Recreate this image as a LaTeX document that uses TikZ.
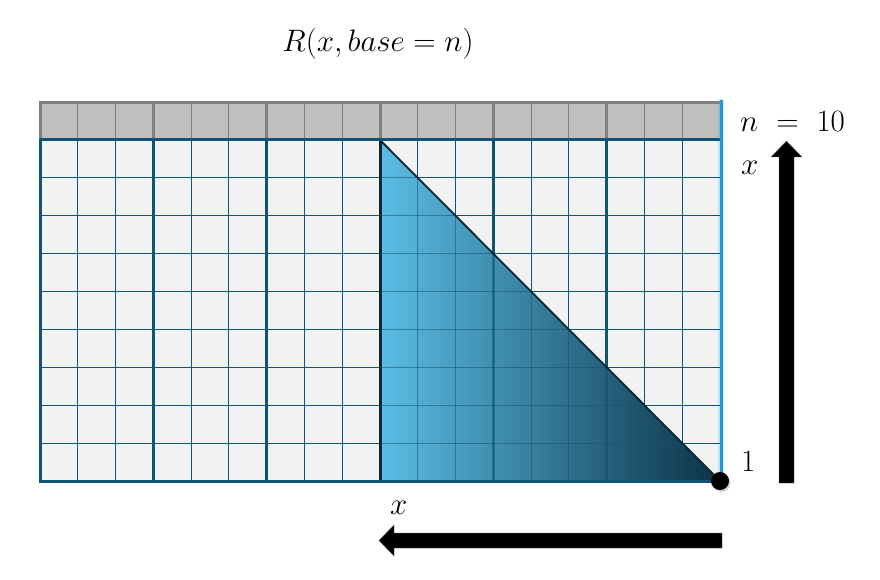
\RequirePackage{fix-cm}
\documentclass[tikz,border=0pt]{standalone}
\usetikzlibrary{shadows}
\definecolor{cellfill}{HTML}{F2F2F2}
\definecolor{grayfill}{HTML}{BFBFBF}
\definecolor{grayline}{HTML}{808080}
\definecolor{gridline}{RGB}{16,84,116}
\definecolor{triL}{HTML}{5BBDE4}
\definecolor{triR}{HTML}{0C3247}
\definecolor{triedge}{RGB}{10,38,52}
\definecolor{blueedge}{HTML}{1E9AD6}
\tikzset{
  thinline/.style={line width=1.2pt},
  thickline/.style={line width=3pt},
  lbl/.style={inner sep=0pt, anchor=base west},
  arrowshape/.style={fill=black, draw=black!60, line width=0.4pt}
}
\begin{document}
\begin{tikzpicture}[x=1pt,y=-1pt]
\useasboundingbox (0,0) rectangle (880,580);
% fills
\fill[cellfill] (40,140) rectangle (720,481);
\fill[grayfill] (40,103) rectangle (720,140);
% gray row lines
\foreach \i in {1,...,17}{
  \pgfmathsetmacro\xx{40+\i*680/18}
  \draw[grayline,thinline] (\xx,103) -- (\xx,140);
}
\foreach \i in {3,6,9,12,15}{
  \pgfmathsetmacro\xx{40+\i*680/18}
  \draw[grayline,thickline] (\xx,103) -- (\xx,140);
}
% body lines
\foreach \i in {1,...,17}{
  \pgfmathsetmacro\xx{40+\i*680/18}
  \draw[gridline,thinline] (\xx,140) -- (\xx,481);
}
\foreach \j in {1,...,8}{
  \pgfmathsetmacro\yy{140+\j*341/9}
  \draw[gridline,thinline] (40,\yy) -- (720,\yy);
}
\foreach \i in {3,6,9,12,15}{
  \pgfmathsetmacro\xx{40+\i*680/18}
  \draw[gridline,thickline] (\xx,140) -- (\xx,481);
}
% triangle
\shade[left color=triL, right color=triR] (380,140) -- (380,481) -- (720,481) -- cycle;
\begin{scope}
  \clip (380,140) -- (380,481) -- (720,481) -- cycle;
  \foreach \i in {9,...,17}{
    \pgfmathsetmacro\xx{40+\i*680/18}
    \draw[gridline,thinline,opacity=0.55] (\xx,140) -- (\xx,481);
  }
  \foreach \i in {12,15}{
    \pgfmathsetmacro\xx{40+\i*680/18}
    \draw[gridline,thickline,opacity=0.55] (\xx,140) -- (\xx,481);
  }
  \foreach \j in {1,...,8}{
    \pgfmathsetmacro\yy{140+\j*341/9}
    \draw[gridline,thinline,opacity=0.55] (380,\yy) -- (720,\yy);
  }
\end{scope}
\draw[triedge,line width=1.8pt,line join=round] (380,140) -- (380,481) -- (720,481) -- cycle;
\draw[triedge,line width=3pt] (380,140) -- (380,481);
% borders
\draw[grayline,thickline] (40,140) -- (40,103) -- (720,103);
\draw[gridline,thickline] (40,140) -- (720,140);
\draw[gridline,thickline] (40,139) -- (40,481) -- (720,481);
% blue right edge with glow
\draw[blueedge,line width=6pt,opacity=0.2] (721,99) -- (721,481);
\draw[blueedge,line width=3pt] (721,100) -- (721,481);
% dot
\node[circle, fill=black, minimum size=18pt, inner sep=0pt,
      drop shadow={shadow xshift=1.5pt, shadow yshift=-2pt, opacity=0.35}] (dot) at (720,481) {};
% arrows
\fill[arrowshape] (779,483) -- (779,157) -- (771,157) -- (786.5,141) -- (802,157) -- (794,157) -- (794,483) -- cycle;
\fill[arrowshape] (722,533) -- (394,533) -- (394,525) -- (379,540.5) -- (394,556) -- (394,548) -- (722,548) -- cycle;
% labels
\node[inner sep=0pt, anchor=base] (title) at (378,52) {\fontsize{31}{36}\selectfont $R(x, base = n)$};
\node[lbl] (nlab) at (740,132) {\fontsize{31}{36}\selectfont $n\ =\ 10$};
\node[lbl] (xside) at (741,175) {\fontsize{31}{36}\selectfont $x$};
\node[lbl] (one) at (741,471) {\fontsize{31}{36}\selectfont $1$};
\node[lbl] (xbot) at (390,514) {\fontsize{31}{36}\selectfont $x$};
\end{tikzpicture}
\end{document}
